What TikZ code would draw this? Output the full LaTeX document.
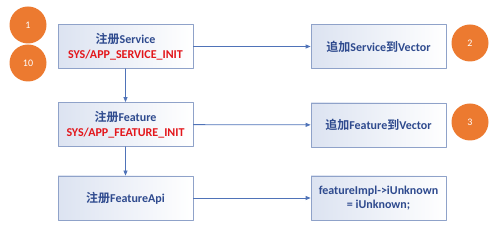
\documentclass[tikz,border=0pt]{standalone}
\usepackage{fontspec}
\usetikzlibrary{arrows.meta}
\setmainfont{Carlito}
\newfontfamily\cjk{Noto Sans CJK SC}[BoldFont={Noto Sans CJK SC Bold}]
\definecolor{BoxLine}{HTML}{8FA2C9}
\definecolor{BoxFill}{HTML}{DCE3F1}
\definecolor{TextBlue}{HTML}{2E4A8E}
\definecolor{TextRed}{HTML}{E3161B}
\definecolor{ArrowBlue}{HTML}{4F73B8}
\definecolor{StepOrange}{HTML}{EC7A30}

\begin{document}
\begin{tikzpicture}[x=1pt,y=1pt,line cap=round,line join=round,font=\bfseries\fontsize{12}{13.5}\selectfont,
  stepbox/.style={draw=BoxLine,line width=.8pt,left color=BoxFill,right color=white,minimum width=135pt,minimum height=44pt,align=center,text=TextBlue,inner sep=1pt},
  badge/.style={circle,fill=StepOrange,minimum size=37pt,inner sep=0pt,text=white,font=\fontsize{10}{12}\selectfont},
  link/.style={draw=ArrowBlue,line width=.8pt,-{Triangle[length=5pt,width=4pt]}}]
  \useasboundingbox (0,0) rectangle (499,229);
  \node[stepbox] (regService) at (125.5,182.5) {{\cjk 注册}Service\\[1pt]\textcolor{TextRed}{SYS/APP\_SERVICE\_INIT}};
  \node[stepbox] (regFeature) at (125.5,104.5) {{\cjk 注册}Feature\\[1pt]\textcolor{TextRed}{SYS/APP\_FEATURE\_INIT}};
  \node[stepbox] (regApi) at (125.5,31) {{\cjk 注册}FeatureApi};
  \node[stepbox] (addService) at (378.5,182.5) {{\cjk 追加}Service{\cjk 到}Vector};
  \node[stepbox] (addFeature) at (378.5,104) {{\cjk 追加}Feature{\cjk 到}Vector};
  \node[stepbox] (setUnknown) at (378.5,31) {featureImpl->iUnknown\\= iUnknown;};
  \node[badge] (one) at (28,204) {1};
  \node[badge] (ten) at (28,166) {10};
  \node[badge] (two) at (470,186) {2};
  \node[badge] (three) at (470,107) {3};
  \draw[link] (regService) -- (regFeature);
  \draw[link] (regFeature) -- (regApi);
  \draw[link] (regService) -- (addService);
  \draw[link] (regFeature) -- (addFeature);
  \draw[link] (regApi) -- (setUnknown);
\end{tikzpicture}
\end{document}
